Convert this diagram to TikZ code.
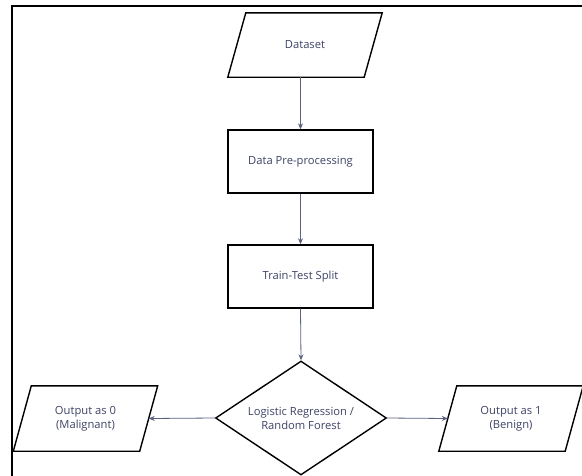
\documentclass[tikz,border=0pt]{standalone}
\usepackage{fontspec}
\setmainfont{Open Sans}
\usetikzlibrary{shapes.geometric,arrows.meta}
\definecolor{txt}{HTML}{3F4466}
\definecolor{arr}{HTML}{5B6181}
\tikzset{
  lbl/.style={text=txt, font=\fontsize{11.2}{14}\selectfont, align=center, inner sep=0pt},
  parabox/.style={lbl, minimum height=64pt, draw=none},
  rectbox/.style={lbl, draw=black, line width=1.4pt, minimum width=145pt, minimum height=63pt},
  decision/.style={lbl, diamond, draw=black, line width=1.4pt, aspect=1.5, minimum width=171pt, minimum height=114pt},
  flow/.style={draw=arr, line width=0.8pt, -{Stealth[length=6pt,width=5pt]}},
  outline/.style={draw=black, line width=1.4pt}
}
\newcommand{\paraoutline}[2]{%
  \draw[outline] ([xshift=#2]#1.north west) -- ([xshift=#2]#1.north east)
    -- ([xshift=-#2]#1.south east) -- ([xshift=-#2]#1.south west) -- cycle;}
\begin{document}
\begin{tikzpicture}[x=1pt,y=-1pt]
\useasboundingbox (0,0) rectangle (582,475);
\fill[white] (0,0) rectangle (582,475);
% outer frame (partially visible)
\draw[line width=1.2pt] (12,476) -- (12,6) -- (583,6);

\node[parabox, minimum width=136pt] (data) at (305,45) {Dataset};
\paraoutline{data}{9pt}
\node[rectbox] (pre) at (300.5,161.5) {Data Pre-processing};
\node[rectbox] (tts) at (300.5,276.5) {Train-Test Split};
\node[decision] (model) at (301,418) {Logistic Regression /\\Random Forest};
\node[parabox, minimum width=126pt, minimum height=65pt] (out0) at (85.5,418.5) {Output as 0\\(Malignant)};
\paraoutline{out0}{9pt}
\node[parabox, minimum width=126pt, minimum height=65pt] (out1) at (511,418.5) {Output as 1\\(Benign)};
\paraoutline{out1}{9pt}

\draw[flow] (data.south -| pre.north) -- (pre.north);
\draw[flow] (pre.south) -- (tts.north);
\draw[flow] (tts.south) -- (model.north);
\draw[flow] (model.west) -- (out0.east);
\draw[flow] (model.east) -- (out1.west);
\end{tikzpicture}
\end{document}
